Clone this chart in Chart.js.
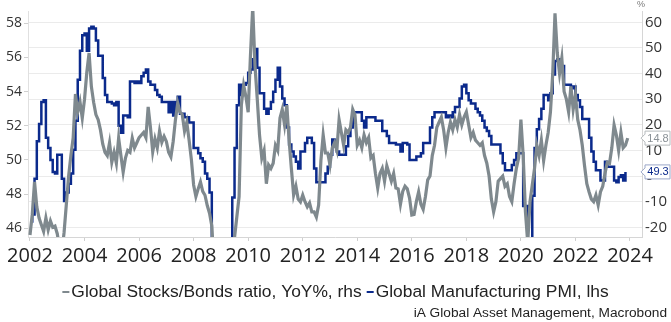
<!DOCTYPE html>
<html>
<head>
<meta charset="utf-8">
<script src="https://cdn.jsdelivr.net/npm/chart.js@4.4.1/dist/chart.umd.min.js"></script>
<style>
  html, body { margin: 0; padding: 0; background: #fff; }
  #wrap { width: 671px; height: 322px; }
</style>
</head>
<body>
<div id="wrap"><canvas id="chart" width="671" height="322"></canvas></div>
<script>
const startYear = 2002
const yearTicks = [2002, 2004, 2006, 2008, 2010, 2012, 2014, 2016, 2018, 2020, 2022, 2024]
const seriesLabels = ['Global Stocks/Bonds ratio, YoY%, rhs', 'Global Manufacturing PMI, lhs']
const sourceNote = 'iA Global Asset Management, Macrobond'

// Global Manufacturing PMI, monthly from Jan 2002 (lhs)
const pmi = [
  46.4, 46.8, 48.9, 51.1, 52.1, 53.4, 53.5, 51.3, 50.7, 50.0, 49.3, 49.2,
  50.3, 50.3, 48.9, 47.6, 48.1, 48.6, 49.2, 50.6, 52.3, 54.7, 56.4, 57.3,
  57.4, 56.4, 57.7, 57.8, 57.7, 57.0, 56.1, 56.1, 54.8, 53.8, 53.4, 53.4,
  53.3, 53.2, 53.4, 52.0, 51.6, 52.6, 52.6, 52.5, 54.6, 54.6, 54.5, 54.6,
  54.5, 54.9, 55.1, 55.3, 54.6, 54.4, 54.4, 54.1, 53.8, 53.7, 53.4, 53.4,
  53.4, 52.8, 53.4, 52.6, 53.4, 53.7, 52.7, 52.7, 52.5, 52.5, 52.2, 52.2,
  50.7, 50.7, 50.4, 50.1, 49.9, 49.2, 48.9, 48.1, 45.0, 41.8, 37.0, 33.7,
  34.5, 35.1, 36.8, 40.1, 43.1, 47.8, 50.7, 53.2, 54.4, 53.8, 54.4, 54.5,
  55.1, 55.3, 55.9, 56.5, 55.4, 53.9, 53.9, 53.0, 52.7, 53.0, 53.4, 54.0,
  54.7, 55.4, 54.3, 53.6, 53.2, 51.9, 50.9, 50.5, 50.2, 49.9, 49.5, 50.5,
  50.5, 51.0, 51.3, 51.3, 51.0, 49.5, 48.7, 48.7, 48.7, 48.7, 49.2, 49.6,
  50.3, 51.2, 50.8, 50.5, 50.3, 50.3, 50.3, 50.8, 51.4, 51.9, 52.8, 52.8,
  52.8, 52.8, 52.3, 51.9, 52.5, 52.5, 52.5, 52.5, 52.3, 52.3, 52.3, 51.7,
  51.7, 51.4, 51.0, 51.0, 51.0, 50.9, 50.9, 50.5, 51.0, 51.0, 50.9, 50.0,
  50.0, 50.0, 50.2, 50.2, 50.4, 51.0, 51.0, 51.0, 51.9, 52.5, 52.8, 52.8,
  52.8, 52.8, 52.8, 52.5, 52.6, 52.5, 52.8, 53.1, 53.1, 53.6, 54.3, 54.4,
  53.9, 53.5, 53.3, 53.3, 53.0, 52.8, 52.6, 52.3, 51.9, 51.7, 51.4, 50.9,
  50.9, 50.9, 50.9, 50.4, 49.8, 49.4, 49.4, 49.4, 49.7, 50.0, 50.4, 50.4,
  50.4, 47.3, 47.3, 39.6, 42.4, 47.9, 50.7, 51.8, 52.4, 53.0, 53.8, 53.8,
  53.5, 53.9, 55.0, 55.8, 55.9, 55.5, 55.5, 54.4, 54.4, 54.4, 54.2, 54.3,
  53.8, 53.5, 53.1, 52.4, 52.4, 52.4, 51.3, 50.5, 49.9, 49.4, 49.4, 48.8,
  48.8, 49.9, 49.6, 49.6, 49.6, 48.8, 48.7, 49.0, 49.1, 48.8, 49.3
]

// Global Stocks/Bonds ratio, YoY %, monthly from Jan 2002 (rhs)
const stocksBonds = [
  -23, -15, -2.3, -12, -16.4, -19, -21.6, -16.4, -21, -17.5, -20, -19.5,
  -22.5, -28, -30, -22, -11, 0, 8, 15, 32, 25, 29, 22.6,
  30, 40.5, 48, 35, 28.8, 24, 22, 18, 12.5, 9.3, 8, 13,
  5.4, 9.3, 5, 14.8, 8, 1.5, 7, 10, 9.3, 14.8, 11, 13,
  15, 16, 17, 15, 27, 19, 9.5, 14.5, 11, 17.5, 13.2, 15.5,
  13.5, 9.3, 7.5, 13.5, 22, 28.5, 25, 24, 17.5, 21, 14, 6.5,
  -3.5, -8, -5, -2.3, -6, -7.5, -11.5, -14.5, -19.5, -35, -50, -55,
  -58, -62, -60, -50, -40, -30, -24, -16, -8, 27.7, 35.4, 31,
  24.9, 47, 66, 43, 30, 16, 7, 10, -3, 4.3, 3, 5,
  12, 10, 22.6, 26, 20, 27.7, 14, 3, -7.4, -4, -9, -10.1,
  -7.4, -10, -12, -10.5, -14, -14, -16, -11.3, 6, 16, 9, 9,
  4.3, 11, 13, 10, 22, 17, 12, 18, 17, 19, 26, 23.8,
  12, 14, 11, 16, 13, 15, 7, 8, 1, -4.7, 1, 3,
  -2, 4, 1, -2, 1, -4.7, -5, -11, -6, -4, -5, -8.6,
  -15.2, -15, -10, -6.2, -11, -13, -8, -1.5, 0, 8, 12, 19,
  21, 23, 18, 11, 17, 21, 18, 22, 19, 24, 20, 23,
  25, 20, 15, 17, 14, 13, 12, 13, 8, 5, 0, -9,
  -14, -10, -2, -1, 0, -4, -3, -8, -10, -3, 3, 7,
  22, 8, -14, -26, -10, -3.5, 3, 12, 8, 14, 6, 12,
  17, 25, 40, 63.5, 48, 40, 46, 33, 30, 25, 35, 26,
  31.6, 22, 18, 12, 4, -3, -6.2, -9, -10, -7.4, -11.3, -6.2,
  -4, 1, 5.4, 5, 11, 19.9, 16, 10, 17, 11, 12, 14.8
]

const GRAY = '#7f898e'
const BLUE = '#0b2a8c'
const TICK_FONT = 'Open Sans'
const TEXT_FONT = 'Liberation Sans'

const toPoints = (values) => values.map((v, i) => ({ x: startYear + i / 12, y: v }))

function zeroPadding (scale) {
  scale.paddingTop = 0
  scale.paddingBottom = 0
  scale.paddingLeft = 0
  scale.paddingRight = 0
}

function drawTag (ctx, x, y, text, color, border) {
  const w = 25
  const h = 14
  const bx = x + 4
  ctx.save()
  ctx.beginPath()
  ctx.moveTo(x, y)
  ctx.lineTo(bx, y - 4)
  ctx.lineTo(bx, y - h / 2)
  ctx.lineTo(bx + w, y - h / 2)
  ctx.lineTo(bx + w, y + h / 2)
  ctx.lineTo(bx, y + h / 2)
  ctx.lineTo(bx, y + 4)
  ctx.closePath()
  ctx.fillStyle = '#fff'
  ctx.fill()
  ctx.strokeStyle = border
  ctx.lineWidth = 1
  ctx.stroke()
  ctx.fillStyle = color
  ctx.font = `11px ${TEXT_FONT}`
  ctx.textAlign = 'center'
  ctx.textBaseline = 'middle'
  ctx.fillText(text, bx + w / 2 + 0.5, y + 0.5)
  ctx.restore()
}

const extras = {
  id: 'extras',
  afterDraw (chart) {
    const { ctx, scales } = chart
    const right = scales.yRight
    const left = scales.yLeft

    // unit above the right axis
    ctx.save()
    ctx.fillStyle = '#777'
    ctx.font = `9px ${TEXT_FONT}`
    ctx.textAlign = 'center'
    ctx.textBaseline = 'middle'
    ctx.fillText('%', 641, 5)
    ctx.restore()

    // last-value tags
    const lastSB = stocksBonds[stocksBonds.length - 1]
    const lastPmi = pmi[pmi.length - 1]
    drawTag(ctx, 641, right.getPixelForValue(lastSB), lastSB.toFixed(1), '#8a9196', '#b5babd')
    drawTag(ctx, 641, left.getPixelForValue(lastPmi), lastPmi.toFixed(1), BLUE, '#9aa6c8')

    // legend
    ctx.save()
    ctx.font = `17.4px ${TEXT_FONT}`
    ctx.textBaseline = 'middle'
    const colors = [GRAY, BLUE]
    const dash = 7
    const gap = 2
    const between = 5
    const widths = seriesLabels.map(t => ctx.measureText(t).width)
    const total = widths.reduce((a, b) => a + b, 0) + seriesLabels.length * (dash + gap) + between
    let x = (chart.width - total) / 2
    const ly = 292
    seriesLabels.forEach((label, i) => {
      ctx.fillStyle = colors[i]
      ctx.fillRect(x, ly - 1, dash, 2)
      x += dash + gap
      ctx.fillStyle = '#222'
      ctx.fillText(label, x, ly)
      x += widths[i] + between
    })

    // source
    ctx.font = `13.7px ${TEXT_FONT}`
    ctx.textAlign = 'right'
    ctx.fillStyle = '#222'
    ctx.fillText(sourceNote, 667, 313)
    ctx.restore()
  }
}

// eslint-disable-next-line no-new
new Chart(document.getElementById('chart'), {
  type: 'line',
  data: {
    datasets: [
      {
        label: seriesLabels[0],
        data: toPoints(stocksBonds),
        yAxisID: 'yRight',
        borderColor: GRAY,
        borderWidth: 3.2,
        pointRadius: 0,
        tension: 0
      },
      {
        label: seriesLabels[1],
        data: toPoints(pmi),
        yAxisID: 'yLeft',
        borderColor: BLUE,
        borderWidth: 2.5,
        pointRadius: 0,
        stepped: 'before'
      }
    ]
  },
  options: {
    responsive: false,
    animation: false,
    layout: { padding: { top: 11, left: 0, right: 0, bottom: 0 } },
    plugins: {
      legend: { display: false },
      tooltip: { enabled: false }
    },
    scales: {
      x: {
        type: 'linear',
        min: 2001.927,
        max: 2024.44,
        afterFit (scale) { scale.height = 85; zeroPadding(scale) },
        afterBuildTicks (scale) { scale.ticks = yearTicks.map(v => ({ value: v })) },
        ticks: {
          padding: 3,
          color: '#222',
          font: { family: TICK_FONT, size: 20 },
          maxRotation: 0,
          autoSkip: false,
          callback: v => String(v)
        },
        grid: { drawOnChartArea: false, tickLength: 4, color: '#cfcfcf' },
        border: { color: '#d6d6d6' }
      },
      yLeft: {
        position: 'left',
        min: 45.49,
        max: 58.72,
        afterFit (scale) { scale.width = 28; zeroPadding(scale) },
        ticks: {
          stepSize: 1,
          includeBounds: false,
          padding: 2,
          color: '#333',
          font: { family: TICK_FONT, size: 14 },
          callback: v => (Math.round(v) % 2 === 0 ? String(Math.round(v)) : '')
        },
        grid: { drawOnChartArea: false, tickLength: 4, color: '#d0d0d0' },
        border: { color: '#e0e0e0' }
      },
      yRight: {
        position: 'right',
        min: -23.79,
        max: 64.41,
        afterFit (scale) { scale.width = 29; zeroPadding(scale) },
        ticks: {
          stepSize: 10,
          includeBounds: false,
          padding: 3,
          color: '#333',
          font: { family: TICK_FONT, size: 15 },
          callback: v => String(Math.round(v))
        },
        grid: { drawTicks: false, color: '#ebebeb' },
        border: { color: '#d6d6d6' }
      }
    }
  },
  plugins: [extras]
})
</script>
</body>
</html>
